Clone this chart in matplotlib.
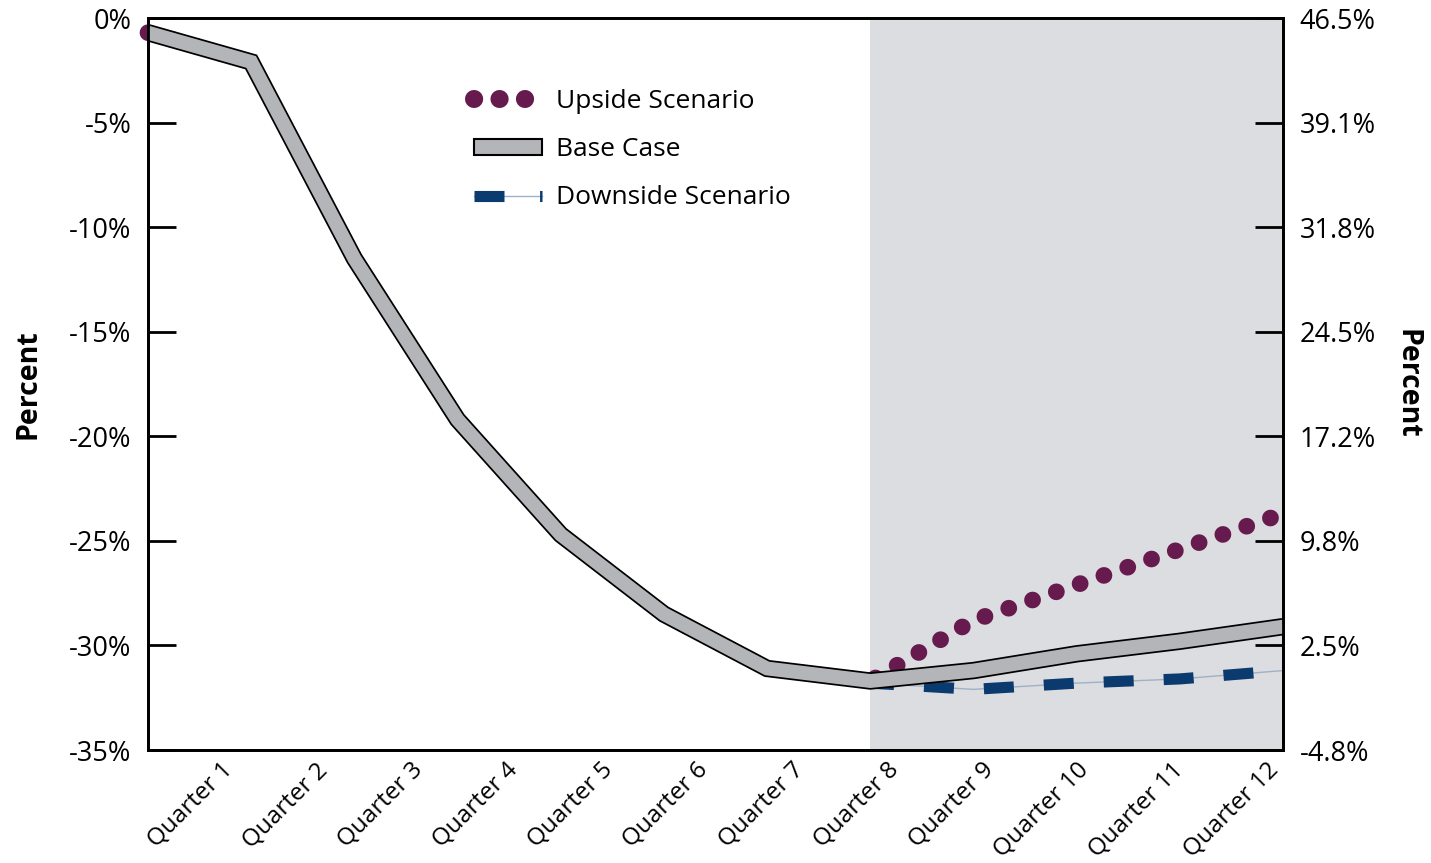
import matplotlib
matplotlib.use("Agg")
import matplotlib.pyplot as plt
import matplotlib.patches as mpatches
from matplotlib.lines import Line2D
from matplotlib.transforms import ScaledTranslation

plt.rcParams['font.family'] = ['Open Sans', 'DejaVu Sans']

# --- data (left axis, percent) ---
quarters = [f"Quarter {i}" for i in range(1, 13)]
base_case = [-0.7, -2.1, -11.5, -19.2, -24.7, -28.5, -31.1, -31.7, -31.2, -30.4, -29.8, -29.1]
upside = [-0.7, -2.1, -11.5, -19.2, -24.7, -28.5, -31.1, -31.7, -28.8, -27.1, -25.4, -23.7]
downside = [-0.7, -2.1, -11.5, -19.2, -24.7, -28.5, -31.1, -31.8, -32.1, -31.8, -31.6, -31.2]
left_ticks = [0, -5, -10, -15, -20, -25, -30, -35]
left_labels = ["0%", "-5%", "-10%", "-15%", "-20%", "-25%", "-30%", "-35%"]
right_labels = ["46.5%", "39.1%", "31.8%", "24.5%", "17.2%", "9.8%", "2.5%", "-4.8%"]

PURPLE = "#661a4d"
NAVY = "#0b3a6f"
GRAY = "#b4b5b8"
SHADE = "#dcdde0"

fig = plt.figure(figsize=(14.31, 8.63), dpi=100)
ax = fig.add_axes([0.1034, 0.1309, 0.7932, 0.8482])
x = list(range(len(quarters)))

# forecast shading from Quarter 8 onward
ax.axvspan(7, 11, color=SHADE, lw=0, zorder=0)

# downside: thin line + thick dashes
ax.plot(x, downside, color="#9fb1c6", lw=1, zorder=2)
ax.plot(x, downside, color=NAVY, lw=8, dashes=(2.7, 2.7), dash_capstyle="butt", zorder=2)
# upside: round dots
ax.plot(x, upside, color=PURPLE, lw=12, dashes=(0.01, 1.5), dash_capstyle="round",
        zorder=2, clip_on=False)
# base case: gray band with black outline
ax.plot(x, base_case, color="black", lw=12.5, solid_capstyle="butt", solid_joinstyle="miter", zorder=3)
ax.plot(x, base_case, color=GRAY, lw=10, solid_capstyle="butt", solid_joinstyle="miter", zorder=4)

ax.set_xlim(0, 11)
ax.set_ylim(-35, 0)
ax.set_yticks(left_ticks)
ax.set_yticklabels(left_labels)
ax.set_xticks(x)
ax.set_xticklabels(quarters, rotation=45, ha="right", rotation_mode="anchor")

ax2 = ax.twinx()
ax2.set_ylim(-35, 0)
ax2.set_yticks(left_ticks)
ax2.set_yticklabels(right_labels)

for a in (ax, ax2):
    for s in a.spines.values():
        s.set_linewidth(2)
    a.tick_params(axis="y", direction="in", length=20, width=2, labelsize=19.5, pad=12)
ax.tick_params(axis="x", length=0, labelsize=17.5, pad=6)

# shift x labels so their ends sit where the reference puts them
ppx = 1 / 100
for i, lbl in enumerate(ax.get_xticklabels()):
    dx = (221 + i * 95.1) - (148 + i * 103.2)
    lbl.set_transform(lbl.get_transform() + ScaledTranslation(dx * ppx, 0, fig.dpi_scale_trans))

ax.set_ylabel("Percent", fontsize=20.5, fontweight="bold", labelpad=19)
ax2.set_ylabel("Percent", fontsize=20.5, fontweight="bold", rotation=-90, labelpad=33)

handles = [
    Line2D([], [], color=PURPLE, lw=13, dashes=(0.01, 1.4), dash_capstyle="round"),
    mpatches.Rectangle((0, 0), 1, 1, facecolor=GRAY, edgecolor="black", lw=1.5),
    (Line2D([], [], color="#9fb1c6", lw=1),
     Line2D([], [], color=NAVY, lw=8, dashes=(2.7, 3.2), dash_capstyle="butt")),
]
ax.legend(handles, ["Upside Scenario", "Base Case", "Downside Scenario"],
          loc="upper left", bbox_to_anchor=(0.2875, 0.903), frameon=False,
          fontsize=19, handlelength=2.55, handleheight=0.55, handletextpad=0.55,
          labelspacing=0.88, borderpad=0, borderaxespad=0)

fig.savefig("out.png", dpi=100)
